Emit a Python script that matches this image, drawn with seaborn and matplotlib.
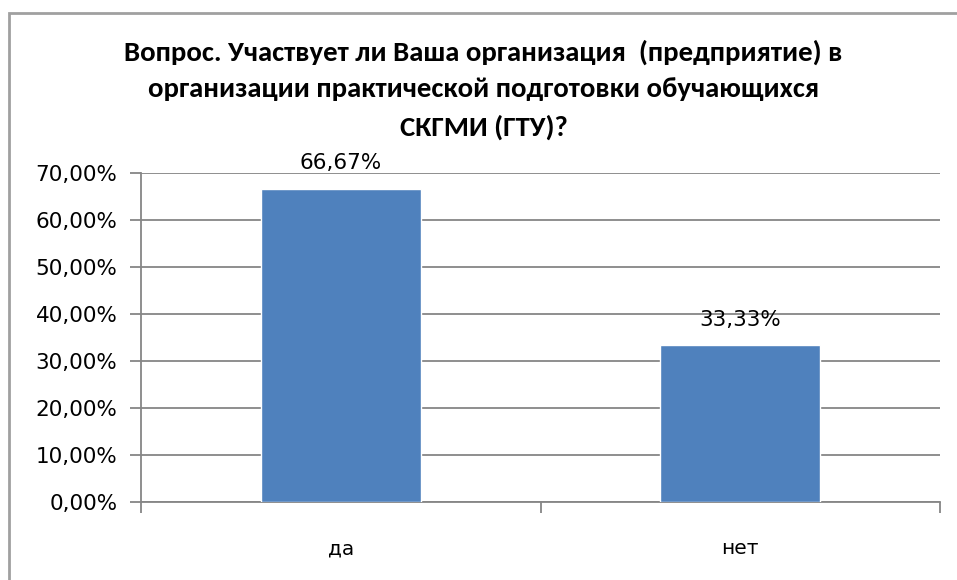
import matplotlib
matplotlib.use("Agg")
import matplotlib.pyplot as plt
import matplotlib.patches as mpatches
import seaborn as sns
import pandas as pd
from matplotlib.ticker import FuncFormatter, FixedLocator

categories = ["да", "нет"]
values = [0.6667, 0.3333]
value_labels = ["66,67%", "33,33%"]
title = "Вопрос. Участвует ли Ваша организация  (предприятие) в\nорганизации практической подготовки обучающихся\nСКГМИ (ГТУ)?"

sns.set_theme(style="white")
plt.rcParams['font.family'] = ['DejaVu Sans']
plt.rcParams['text.color'] = '#000000'

df = pd.DataFrame({"cat": categories, "val": values})

fig = plt.figure(figsize=(9.57, 5.80), dpi=100)
ax = fig.add_axes([141/957, 1-502/580, (940-141)/957, (502-173)/580])

sns.barplot(data=df, x="cat", y="val", color="#4F81BD", width=0.4, ax=ax,
            saturation=1, zorder=3)
ax.set_xlim(-0.5, 1.5)
ax.set_ylim(0, 0.7)
ax.set_yticks([i/10 for i in range(8)])
ax.yaxis.set_major_formatter(FuncFormatter(lambda v, p: f"{v*100:.2f}".replace(".", ",") + "%"))
ax.grid(axis="y", color="#868686", linewidth=1.3, zorder=0)
ax.set_axisbelow(True)
ax.set_xlabel("")
ax.set_ylabel("")

for s in ["top", "right"]:
    ax.spines[s].set_visible(False)
for s in ["left", "bottom"]:
    ax.spines[s].set_color("#868686")
    ax.spines[s].set_linewidth(1.3)

ax.tick_params(axis="y", which="major", length=8, width=1.3, color="#868686",
               labelsize=15.5, labelcolor="#000000", pad=9, left=True)
ax.tick_params(axis="x", which="major", length=0, labelsize=14.5, pad=27, labelcolor="#000000")
ax.xaxis.set_minor_locator(FixedLocator([-0.5, 0.5, 1.5]))
ax.tick_params(axis="x", which="minor", length=8, width=1.3, color="#868686", bottom=True)

for cont in ax.containers:
    ax.bar_label(cont, labels=value_labels, padding=11, fontsize=15.5, color="#000000")

fig.text(0.5 + 5/957, 1-89.5/580, title, ha="center", va="center", fontsize=20.7,
         fontweight="bold", color="#000000",
         family=["Liberation Sans Narrow", "Carlito", "DejaVu Sans"],
         linespacing=1.62)

frame = mpatches.Rectangle((9/957, -0.1), 1.2, 1-13/580+0.1, transform=fig.transFigure,
                           fill=False, edgecolor="#A0A0A0", linewidth=2, clip_on=False)
fig.patches.append(frame)

fig.savefig("out.png", dpi=100)
